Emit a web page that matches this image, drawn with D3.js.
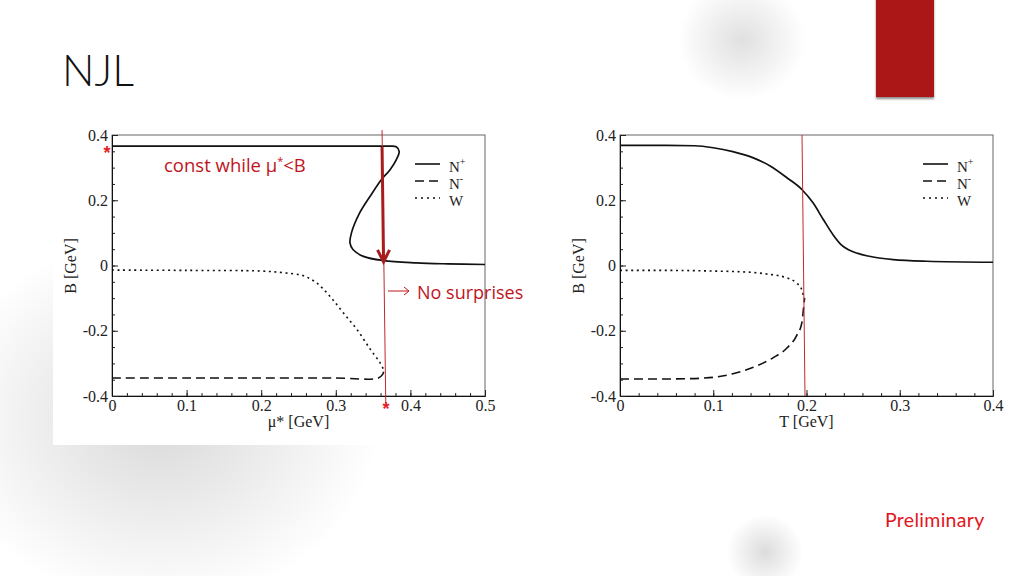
<!DOCTYPE html>
<html>
<head>
<meta charset="utf-8">
<script src="https://cdn.jsdelivr.net/npm/d3@7"></script>
<style>
  html, body { margin: 0; padding: 0; background: #fff; }
  svg { display: block; }
</style>
</head>
<body>
<svg id="slide" width="1024" height="576"></svg>
<script>
// ---------------- DATA ----------------
// Left panel: B vs mu* [GeV]
const leftNplusX  = [0, 0.1, 0.2, 0.3, 0.36, 0.372, 0.381, 0.385, 0.381, 0.3725, 0.361, 0.346, 0.332, 0.321, 0.319, 0.323, 0.337, 0.364, 0.408, 0.45, 0.5];
const leftNplusY  = [0.366, 0.366, 0.366, 0.366, 0.366, 0.366, 0.364, 0.349, 0.324, 0.293, 0.263, 0.212, 0.161, 0.100, 0.069, 0.049, 0.028, 0.015, 0.008, 0.005, 0.003];
const leftNminusX = [0, 0.1, 0.2, 0.3, 0.357, 0.363, 0.365];
const leftNminusY = [-0.345, -0.345, -0.345, -0.345, -0.345, -0.333, -0.318];
const leftWX      = [0, 0.1, 0.2, 0.229, 0.256, 0.274, 0.292, 0.310, 0.328, 0.346, 0.359, 0.364];
const leftWY      = [-0.014, -0.015, -0.017, -0.022, -0.031, -0.053, -0.094, -0.145, -0.195, -0.256, -0.297, -0.318];

// Right panel: B vs T [GeV]
const rightNplusX  = [0, 0.05, 0.08, 0.1, 0.121, 0.143, 0.161, 0.179, 0.195, 0.207, 0.218, 0.229, 0.237, 0.245, 0.255, 0.266, 0.293, 0.329, 0.4];
const rightNplusY  = [0.368, 0.368, 0.367, 0.361, 0.349, 0.330, 0.305, 0.269, 0.233, 0.192, 0.141, 0.092, 0.064, 0.048, 0.037, 0.029, 0.018, 0.013, 0.010];
const rightNminusX = [0, 0.04, 0.07, 0.09, 0.105, 0.121, 0.143, 0.164, 0.179, 0.189, 0.195, 0.197, 0.198];
const rightNminusY = [-0.348, -0.348, -0.347, -0.345, -0.341, -0.332, -0.312, -0.283, -0.253, -0.217, -0.176, -0.125, -0.099];
const rightWX      = [0, 0.05, 0.1, 0.136, 0.157, 0.179, 0.189, 0.195, 0.197];
const rightWY      = [-0.015, -0.015, -0.017, -0.020, -0.026, -0.038, -0.053, -0.074, -0.099];

// Annotation markers (data coords)
const leftMarkX  = [0.362, 0.367];
const leftMarkY  = [0.415, -0.425];
const leftArrowX = [0.362, 0.364];
const leftArrowY = [0.363, 0.011];
const rightMarkX = [0.1952, 0.1984];
const rightMarkY = [0.4, -0.4];

// Ticks
const leftXTicks  = [0, 0.1, 0.2, 0.3, 0.4, 0.5];
const rightXTicks = [0, 0.1, 0.2, 0.3, 0.4];
const yTicks      = [0.4, 0.2, 0, -0.2, -0.4];
const legendLabels = [["N", "+"], ["N", "-"], ["W", ""]];
const legendDash   = [null, "9,5", "2,4"];

// ---------------- DRAW ----------------
const svg = d3.select("#slide");
const defs = svg.append("defs");

function radial(id, color) {
  const g = defs.append("radialGradient").attr("id", id);
  g.append("stop").attr("offset", "0%").attr("stop-color", color).attr("stop-opacity", 1);
  g.append("stop").attr("offset", "55%").attr("stop-color", color).attr("stop-opacity", 0.45);
  g.append("stop").attr("offset", "100%").attr("stop-color", color).attr("stop-opacity", 0);
}
radial("blobA", "#d9d9d9");
radial("blobB", "#e0e0e0");
radial("blobC", "#dcdcdc");
const shadow = defs.append("filter").attr("id", "shd").attr("x", "-20%").attr("y", "-20%").attr("width", "140%").attr("height", "140%");
shadow.append("feDropShadow").attr("dx", 0).attr("dy", 2).attr("stdDeviation", 1.2).attr("flood-color", "#000").attr("flood-opacity", 0.45);

svg.append("rect").attr("width", 1024).attr("height", 576).attr("fill", "#fff");

// decorative blobs
svg.append("ellipse").attr("cx", 160).attr("cy", 420).attr("rx", 220).attr("ry", 185).attr("fill", "url(#blobA)");
svg.append("ellipse").attr("cx", 742).attr("cy", 40).attr("rx", 64).attr("ry", 60).attr("fill", "url(#blobB)");
svg.append("ellipse").attr("cx", 765).attr("cy", 552).attr("rx", 38).attr("ry", 38).attr("fill", "url(#blobC)");

// red accent
svg.append("rect").attr("x", 876).attr("y", -5).attr("width", 58).attr("height", 102)
  .attr("fill", "#ab1616").attr("filter", "url(#shd)");

// title
svg.append("text").attr("x", 62).attr("y", 86).text("NJL")
  .attr("font-family", "Lato, 'Open Sans', sans-serif").attr("font-size", 43).attr("font-weight", 300).attr("fill", "#111");

// Preliminary
svg.append("text").attr("x", 885).attr("y", 527).text("Preliminary")
  .attr("font-family", "Lato, 'Open Sans', sans-serif").attr("font-size", 19.5).attr("letter-spacing", 0.3).attr("fill", "#e3141c");

// white background of left picture
svg.append("rect").attr("x", 53).attr("y", 115).attr("width", 447).attr("height", 330).attr("fill", "#fff");

const serif = "'Liberation Serif', 'DejaVu Serif', serif";

function drawPanel(opt) {
  const x = d3.scaleLinear().domain(opt.xDomain).range([opt.left, opt.right]);
  const y = d3.scaleLinear().domain([-0.4, 0.4]).range([396, 135]);
  const g = svg.append("g");

  // frame
  g.append("rect").attr("x", opt.left).attr("y", 135).attr("width", opt.right - opt.left).attr("height", 261)
    .attr("fill", "none").attr("stroke", "#666").attr("stroke-width", 1);

  // minor ticks
  const xMinor = d3.range(opt.xDomain[0], opt.xDomain[1] + 1e-9, 0.02);
  const yMinor = d3.range(-0.4, 0.4 + 1e-9, 0.05);
  g.append("g").attr("transform", "translate(0,396)")
    .call(d3.axisBottom(x).tickValues(xMinor).tickSize(-3).tickFormat(""))
    .call(s => s.select(".domain").remove());
  g.append("g").attr("transform", `translate(${opt.left},0)`)
    .call(d3.axisLeft(y).tickValues(yMinor).tickSize(-3).tickFormat(""))
    .call(s => s.select(".domain").remove());

  // major ticks
  const xa = g.append("g").attr("transform", "translate(0,396)")
    .call(d3.axisBottom(x).tickValues(opt.xTicks).tickSize(-6).tickPadding(4).tickFormat(d => String(d)));
  xa.select(".domain").attr("stroke", "#111");
  const ya = g.append("g").attr("transform", `translate(${opt.left},0)`)
    .call(d3.axisLeft(y).tickValues(yTicks).tickSize(-6).tickPadding(4).tickFormat(d => String(d)));
  ya.select(".domain").attr("stroke", "#111");
  g.selectAll(".tick line").attr("stroke", "#222");
  g.selectAll(".tick text").attr("font-family", serif).attr("font-size", 16).attr("fill", "#222");

  // axis titles
  g.append("text").attr("x", (opt.left + opt.right) / 2).attr("y", 427).attr("text-anchor", "middle")
    .attr("font-family", serif).attr("font-size", 16).attr("fill", "#222").text(opt.xLabel);
  g.append("text").attr("transform", `translate(${opt.left - 36},266) rotate(-90)`).attr("text-anchor", "middle")
    .attr("font-family", serif).attr("font-size", 16).attr("fill", "#222").text("B [GeV]");

  const line = d3.line().x(d => x(d[0])).y(d => y(d[1])).curve(opt.curve);
  const zip = (a, b) => a.map((v, i) => [v, b[i]]);
  g.append("path").attr("d", line(zip(opt.wX, opt.wY))).attr("fill", "none").attr("stroke", "#111")
    .attr("stroke-width", 1.6).attr("stroke-dasharray", "2,3.6");
  g.append("path").attr("d", line(zip(opt.nmX, opt.nmY))).attr("fill", "none").attr("stroke", "#111")
    .attr("stroke-width", 1.6).attr("stroke-dasharray", "9,5");
  g.append("path").attr("d", line(zip(opt.npX, opt.npY))).attr("fill", "none").attr("stroke", "#111")
    .attr("stroke-width", 1.7);

  // legend
  const lg = g.append("g");
  legendLabels.forEach((lab, i) => {
    const ly = 164 + i * 17;
    lg.append("line").attr("x1", opt.legX).attr("x2", opt.legX + 25).attr("y1", ly).attr("y2", ly)
      .attr("stroke", "#111").attr("stroke-width", 1.6).attr("stroke-dasharray", legendDash[i]);
    const t = lg.append("text").attr("x", opt.legX + 34).attr("y", ly + 8)
      .attr("font-family", serif).attr("font-size", 15).attr("fill", "#222");
    t.append("tspan").text(lab[0]);
    if (lab[1]) t.append("tspan").attr("font-size", 10).attr("dy", -7).text(lab[1]);
  });

  // red marker line
  g.append("line").attr("x1", x(opt.markX[0])).attr("y1", y(opt.markY[0]))
    .attr("x2", x(opt.markX[1])).attr("y2", y(opt.markY[1]))
    .attr("stroke", "#c0282c").attr("stroke-width", 1);
  return {x, y, g};
}

const L = drawPanel({
  xDomain: [0, 0.5], left: 112, right: 485, xTicks: leftXTicks, xLabel: "μ* [GeV]",
  npX: leftNplusX, npY: leftNplusY, nmX: leftNminusX, nmY: leftNminusY, wX: leftWX, wY: leftWY,
  markX: leftMarkX, markY: leftMarkY, legX: 415, curve: d3.curveCatmullRom.alpha(0.5)
});
drawPanel({
  xDomain: [0, 0.4], left: 620, right: 993, xTicks: rightXTicks, xLabel: "T [GeV]",
  npX: rightNplusX, npY: rightNplusY, nmX: rightNminusX, nmY: rightNminusY, wX: rightWX, wY: rightWY,
  markX: rightMarkX, markY: rightMarkY, legX: 923, curve: d3.curveMonotoneX
});

// left annotations
const red = "#c0141c";
const ax0 = L.x(leftArrowX[0]), ay0 = L.y(leftArrowY[0]), ax1 = L.x(leftArrowX[1]), ay1 = L.y(leftArrowY[1]);
svg.append("line").attr("x1", ax0).attr("y1", ay0).attr("x2", ax1).attr("y2", ay1 - 2)
  .attr("stroke", "#a81c1c").attr("stroke-width", 3);
svg.append("path").attr("d", `M${ax1 - 6},${ay1 - 12} L${ax1},${ay1} L${ax1 + 6},${ay1 - 12}`)
  .attr("fill", "none").attr("stroke", "#a81c1c").attr("stroke-width", 3).attr("stroke-linejoin", "miter");

const sans = "'Open Sans', Lato, sans-serif";
const ct = svg.append("text").attr("x", 164).attr("y", 172)
  .attr("font-family", sans).attr("font-size", 18.5).attr("fill", red);
ct.append("tspan").text("const while μ");
ct.append("tspan").attr("font-size", 11).attr("dy", -7).text("*");
ct.append("tspan").attr("dy", 7).text("<B");

// "→ No surprises"
svg.append("line").attr("x1", 388).attr("y1", 291).attr("x2", 409).attr("y2", 291).attr("stroke", red).attr("stroke-width", 1);
svg.append("path").attr("d", "M404,287 L409,291 L404,295").attr("fill", "none").attr("stroke", red).attr("stroke-width", 1);
svg.append("text").attr("x", 417).attr("y", 298.5).text("No surprises")
  .attr("font-family", sans).attr("font-size", 18).attr("fill", red);

// red asterisks
svg.append("text").attr("x", 107).attr("y", 159).attr("text-anchor", "middle").text("*")
  .attr("font-family", "'Liberation Sans', sans-serif").attr("font-weight", "bold").attr("font-size", 18).attr("fill", "#e52222");
svg.append("text").attr("x", 386).attr("y", 415).attr("text-anchor", "middle").text("*")
  .attr("font-family", "'Liberation Sans', sans-serif").attr("font-weight", "bold").attr("font-size", 18).attr("fill", "#e52222");
</script>
</body>
</html>
